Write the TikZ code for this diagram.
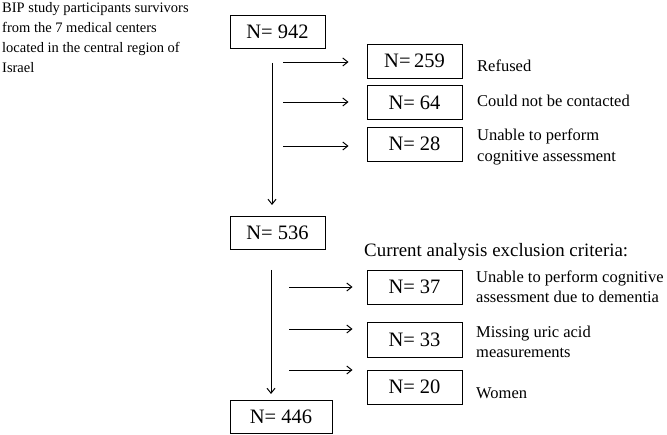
\documentclass[tikz,border=0pt]{standalone}
\usepackage{fontspec}
\setmainfont{Liberation Serif}
\usetikzlibrary{arrows.meta}
\begin{document}
\begin{tikzpicture}[x=1pt,y=-1pt,
  nbox/.style={draw,line width=0.9pt,minimum height=33pt,inner sep=0pt,font=\fontsize{20.5}{22}\selectfont},
  lbl/.style={anchor=west,align=left,inner sep=0pt,font=\fontsize{16.5}{20.5}\selectfont},
  arr/.style={line width=0.9pt,-{Straight Barb[length=5pt,width=8pt,line width=1pt]}}]
\useasboundingbox (0,0) rectangle (667,435);
% intro text
\node[anchor=north west,align=left,inner sep=0pt,font=\fontsize{14.5}{20}\selectfont] (intro) at (2,2)
  {BIP study participants survivors\\from the 7 medical centers\\located in the central region of\\Israel};
% main boxes
\node[nbox,minimum width=95pt] (n942) at (277.5,31.5) {N= 942};
\node[nbox,minimum width=95pt] (n536) at (277.5,233) {N= 536};
\node[nbox,minimum width=102pt] (n446) at (281,416.5) {N= 446};
% exclusion boxes first stage
\node[nbox,minimum width=95pt,minimum height=34pt] (n259) at (414.5,61) {N=\,259};
\node[nbox,minimum width=95pt,minimum height=34pt] (n64) at (414.5,102.5) {N= 64};
\node[nbox,minimum width=95pt,minimum height=34pt] (n28) at (414.5,144) {N= 28};
\node[lbl] (l259) at (477,66) {Refused};
\node[lbl] (l64) at (477,101) {Could not be contacted};
\node[lbl] (l28) at (477,147) {Unable to perform\\cognitive assessment};
% second stage
\node[anchor=west,inner sep=0pt,font=\fontsize{18.9}{20}\selectfont] (crit) at (364,252) {Current analysis exclusion criteria:};
\node[nbox,minimum width=95pt,minimum height=34pt] (n37) at (414.5,287) {N= 37};
\node[nbox,minimum width=95pt,minimum height=35pt] (n33) at (414.5,339.5) {N= 33};
\node[nbox,minimum width=95pt,minimum height=34pt] (n20) at (414.5,387) {N= 20};
\node[lbl] (l37) at (476,287) {Unable to perform cognitive\\assessment due to dementia};
\node[lbl] (l33) at (476,342) {Missing uric acid\\measurements};
\node[lbl] (l20) at (476,393) {Women};
% connectors
\coordinate (v1s) at (272,63);
\coordinate (v1e) at (272,205);
\draw[arr] (v1s) -- (v1e);
\coordinate (a1) at (283,62);
\coordinate (a2) at (283,102);
\coordinate (a3) at (283,146);
\draw[arr] (a1) -- ([xshift=-18pt]a1 -| n259.west);
\draw[arr] (a2) -- ([xshift=-18pt]a2 -| n64.west);
\draw[arr] (a3) -- ([xshift=-18pt]a3 -| n28.west);
\coordinate (v2s) at (271,270);
\coordinate (v2e) at (271,394);
\draw[arr] (v2s) -- (v2e);
\coordinate (b1) at (289,287);
\coordinate (b2) at (289,329);
\coordinate (b3) at (289,370);
\draw[arr] (b1) -- ([xshift=-14pt]b1 -| n37.west);
\draw[arr] (b2) -- ([xshift=-14pt]b2 -| n33.west);
\draw[arr] (b3) -- ([xshift=-14pt]b3 -| n20.west);
\end{tikzpicture}
\end{document}
